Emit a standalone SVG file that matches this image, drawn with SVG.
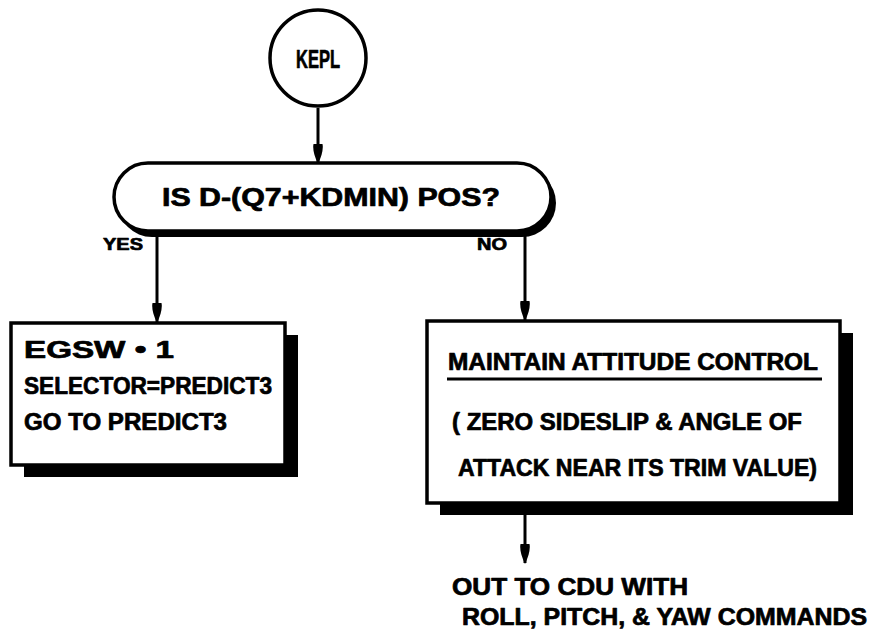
<svg xmlns="http://www.w3.org/2000/svg" width="877" height="642" viewBox="0 0 877 642">
  <style>
    .lbl { font-family: "Liberation Sans", Arial, sans-serif; font-weight: bold; fill: #000; stroke: #000; stroke-width: 0.7; stroke-linejoin: round; }
    .edge { fill: none; stroke: #000; stroke-width: 3; marker-end: url(#head); }
    .outline { fill: #fff; stroke: #000; stroke-width: 3.5; }
    .shade { fill: #000; stroke: none; }
  </style>
  <defs>
    <!-- tapered flowchart arrowhead -->
    <marker id="head" viewBox="0 0 20 12" refX="19" refY="6" markerWidth="20" markerHeight="12" markerUnits="userSpaceOnUse" orient="auto">
      <path d="M0,1.5 Q7,0 20,6 Q7,12 0,10.5 Q-1.5,6 0,1.5 Z" fill="#000"/>
    </marker>
  </defs>

  <rect width="877" height="642" fill="#fff"/>

  <!-- connectors -->
  <g id="connectors">
    <line class="edge" x1="318" y1="108" x2="318" y2="163"/>
    <line class="edge" x1="157" y1="236" x2="157" y2="322"/>
    <line class="edge" x1="525" y1="236" x2="525" y2="320"/>
    <line class="edge" x1="525" y1="515" x2="525" y2="563"/>
  </g>

  <!-- entry point -->
  <g id="kepl">
    <circle class="outline" cx="318" cy="58" r="48"/>
    <text class="lbl" x="318" y="68" font-size="25" text-anchor="middle" textLength="44" lengthAdjust="spacingAndGlyphs">KEPL</text>
  </g>

  <!-- decision terminal -->
  <g id="decision">
    <rect class="shade" x="118" y="169" width="438" height="68" rx="34"/>
    <rect class="outline" x="114" y="163" width="437" height="68" rx="34"/>
    <text class="lbl" x="162" y="206" font-size="25" textLength="338" lengthAdjust="spacingAndGlyphs">IS  D-(Q7+KDMIN)  POS?</text>
  </g>

  <g id="branch-labels">
    <text class="lbl" x="103" y="250" font-size="17" textLength="40" lengthAdjust="spacingAndGlyphs">YES</text>
    <text class="lbl" x="477" y="250" font-size="17" textLength="30" lengthAdjust="spacingAndGlyphs">NO</text>
  </g>

  <!-- yes branch: set switch and go to PREDICT3 -->
  <g id="predict">
    <rect class="shade" x="24" y="335" width="274" height="142"/>
    <rect class="outline" x="11" y="323" width="274" height="142"/>
    <text class="lbl" x="24" y="358" font-size="23" textLength="150" lengthAdjust="spacingAndGlyphs">EGSW   •  1</text>
    <text class="lbl" x="24" y="394" font-size="23" textLength="248" lengthAdjust="spacingAndGlyphs">SELECTOR=PREDICT3</text>
    <text class="lbl" x="24" y="430" font-size="23" textLength="203" lengthAdjust="spacingAndGlyphs">GO TO PREDICT3</text>
  </g>

  <!-- no branch: attitude hold -->
  <g id="attitude">
    <rect class="shade" x="440" y="333" width="413" height="182"/>
    <rect class="outline" x="427" y="321" width="413" height="182"/>
    <text class="lbl" x="448" y="370" font-size="23" textLength="370" lengthAdjust="spacingAndGlyphs">MAINTAIN ATTITUDE CONTROL</text>
    <line x1="447" y1="379" x2="822" y2="379" stroke="#000" stroke-width="3"/>
    <text class="lbl" x="452" y="430" font-size="23" textLength="350" lengthAdjust="spacingAndGlyphs">( ZERO SIDESLIP &amp; ANGLE OF</text>
    <text class="lbl" x="458" y="476" font-size="23" textLength="359" lengthAdjust="spacingAndGlyphs">ATTACK NEAR ITS TRIM VALUE)</text>
  </g>

  <!-- exit -->
  <g id="out">
    <text class="lbl" x="452" y="595" font-size="23" textLength="236" lengthAdjust="spacingAndGlyphs">OUT TO CDU WITH</text>
    <text class="lbl" x="462" y="625" font-size="23" textLength="405" lengthAdjust="spacingAndGlyphs">ROLL, PITCH, &amp; YAW COMMANDS</text>
  </g>
</svg>
